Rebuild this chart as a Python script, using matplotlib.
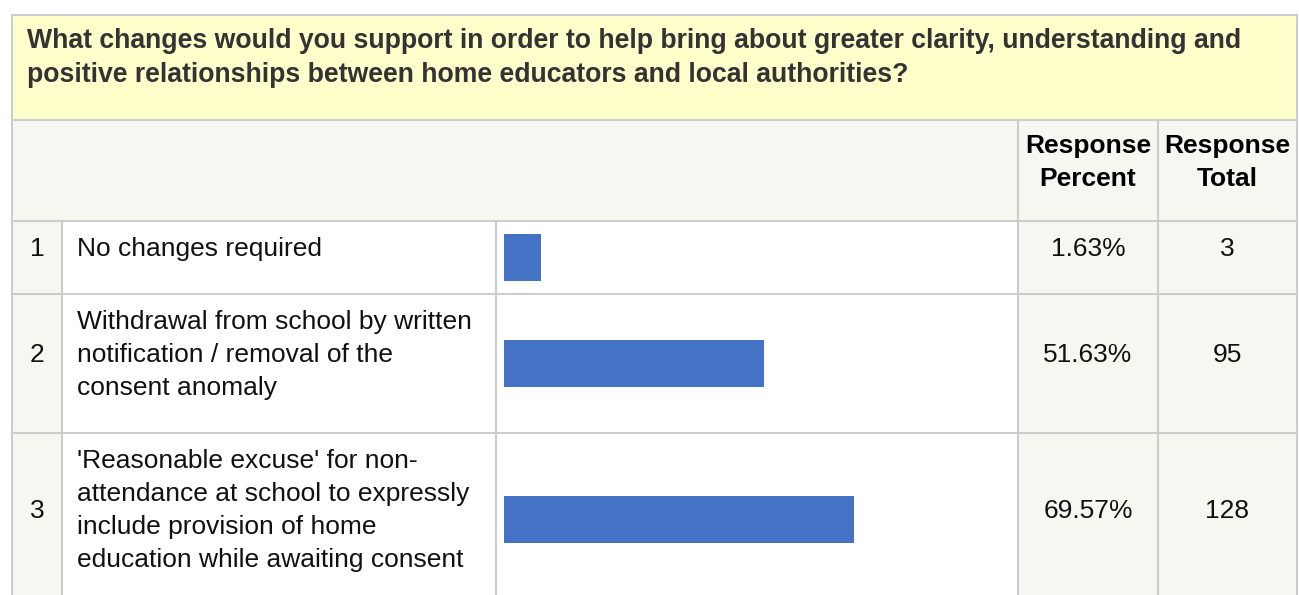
import matplotlib.pyplot as plt
from matplotlib.patches import Rectangle
import numpy as np

plt.rcParams["font.family"] = ["Liberation Sans", "DejaVu Sans"]

W, H = 1299, 595

QUESTION = [
    "What changes would you support in order to help bring about greater clarity, understanding and",
    "positive relationships between home educators and local authorities?",
]
HEADERS = ["Response\nPercent", "Response\nTotal"]
ROW_IDS = ["1", "2", "3"]
OPTIONS = [
    ["No changes required"],
    ["Withdrawal from school by written", "notification / removal of the", "consent anomaly"],
    ["'Reasonable excuse' for non-", "attendance at school to expressly",
     "include provision of home", "education while awaiting consent"],
]
PERCENTS = [1.63, 51.63, 69.57]
TOTALS = [3, 95, 128]

BAR_COLOR = "#4472c4"
BORDER = "#cccccc"
TITLE_BG = "#ffffcc"
CELL_BG = "#f7f7f1"
LW = 1.45

# column edges (px)
X_LEFT, X_NUM, X_TEXT, X_BAR, X_PCT, X_RIGHT = 12, 62, 496, 1018, 1158, 1297
Y_TOP, Y_HEAD, Y_ROWS = 15, 120, 221
LINE_H = 33
BASE_ROW_H = 73
MIN_BAR = 7.4  # keep tiny bars visible

fig = plt.figure(figsize=(W / 100, H / 100), dpi=100)
ax = fig.add_axes([0, 0, 1, 1])
ax.set_xlim(0, W)
ax.set_ylim(H, 0)
ax.axis("off")


def cell(x0, y0, x1, y1, color):
    ax.add_patch(Rectangle((x0, y0), x1 - x0, y1 - y0, facecolor=color, edgecolor="none", zorder=0))


# title block
cell(X_LEFT, Y_TOP, X_RIGHT, Y_HEAD, TITLE_BG)
for i, line in enumerate(QUESTION):
    ax.text(27, Y_TOP + 33.5 + i * LINE_H, line, fontsize=19.2, fontweight="bold",
            color="#333333", va="baseline", ha="left")

# header row
cell(X_LEFT, Y_HEAD, X_RIGHT, Y_ROWS, CELL_BG)
for xc, label in zip([(X_BAR + X_PCT) / 2, (X_PCT + X_RIGHT) / 2], HEADERS):
    for j, part in enumerate(label.split("\n")):
        ax.text(xc, Y_HEAD + 33 + j * LINE_H, part, fontsize=19, fontweight="bold",
                color="#000000", ha="center", va="baseline")

# data rows
row_tops = [Y_ROWS]
for lines in OPTIONS:
    row_tops.append(row_tops[-1] + BASE_ROW_H + (len(lines) - 1) * LINE_H)

centers = []
for k, lines in enumerate(OPTIONS):
    top, bot = row_tops[k], row_tops[k + 1]
    centers.append((top + bot) / 2)
    cell(X_LEFT, top, X_NUM, bot, CELL_BG)
    cell(X_NUM, top, X_BAR, bot, "white")
    cell(X_BAR, top, X_RIGHT, bot, CELL_BG)
    mid_base = top + 35 + (len(lines) - 1) * LINE_H / 2
    ax.text((X_LEFT + X_NUM) / 2, mid_base, ROW_IDS[k], fontsize=19, ha="center", va="baseline", color="#111111")
    for j, line in enumerate(lines):
        ax.text(77, top + 35 + j * LINE_H, line, fontsize=19, ha="left", va="baseline", color="#111111")
    ax.text((X_BAR + X_PCT) / 2, mid_base, f"{PERCENTS[k]:.2f}%", fontsize=19,
            ha="center", va="baseline", color="#111111")
    ax.text((X_PCT + X_RIGHT) / 2, mid_base, str(TOTALS[k]), fontsize=19,
            ha="center", va="baseline", color="#111111")

# grid lines
for y in [Y_TOP, Y_HEAD] + row_tops:
    ax.plot([X_LEFT, X_RIGHT], [y, y], color=BORDER, lw=LW, zorder=2)
ax.plot([X_LEFT, X_LEFT], [Y_TOP, H], color=BORDER, lw=LW, zorder=2)
ax.plot([X_RIGHT, X_RIGHT], [Y_TOP, H], color=BORDER, lw=LW, zorder=2)
for x in [X_BAR, X_PCT]:
    ax.plot([x, x], [Y_HEAD, H], color=BORDER, lw=LW, zorder=2)
for x in [X_NUM, X_TEXT]:
    ax.plot([x, x], [Y_ROWS, H], color=BORDER, lw=LW, zorder=2)

# bar column: 0-100 % across the cell
bar_ax = fig.add_axes([504 / W, 0, 503 / W, 1])
bar_ax.set_xlim(0, 100)
bar_ax.set_ylim(H, 0)
bar_ax.axis("off")
bar_ax.patch.set_visible(False)
bar_ax.barh(centers, np.maximum(PERCENTS, MIN_BAR), height=47, left=0, color=BAR_COLOR)

fig.savefig("out.png", dpi=100)
